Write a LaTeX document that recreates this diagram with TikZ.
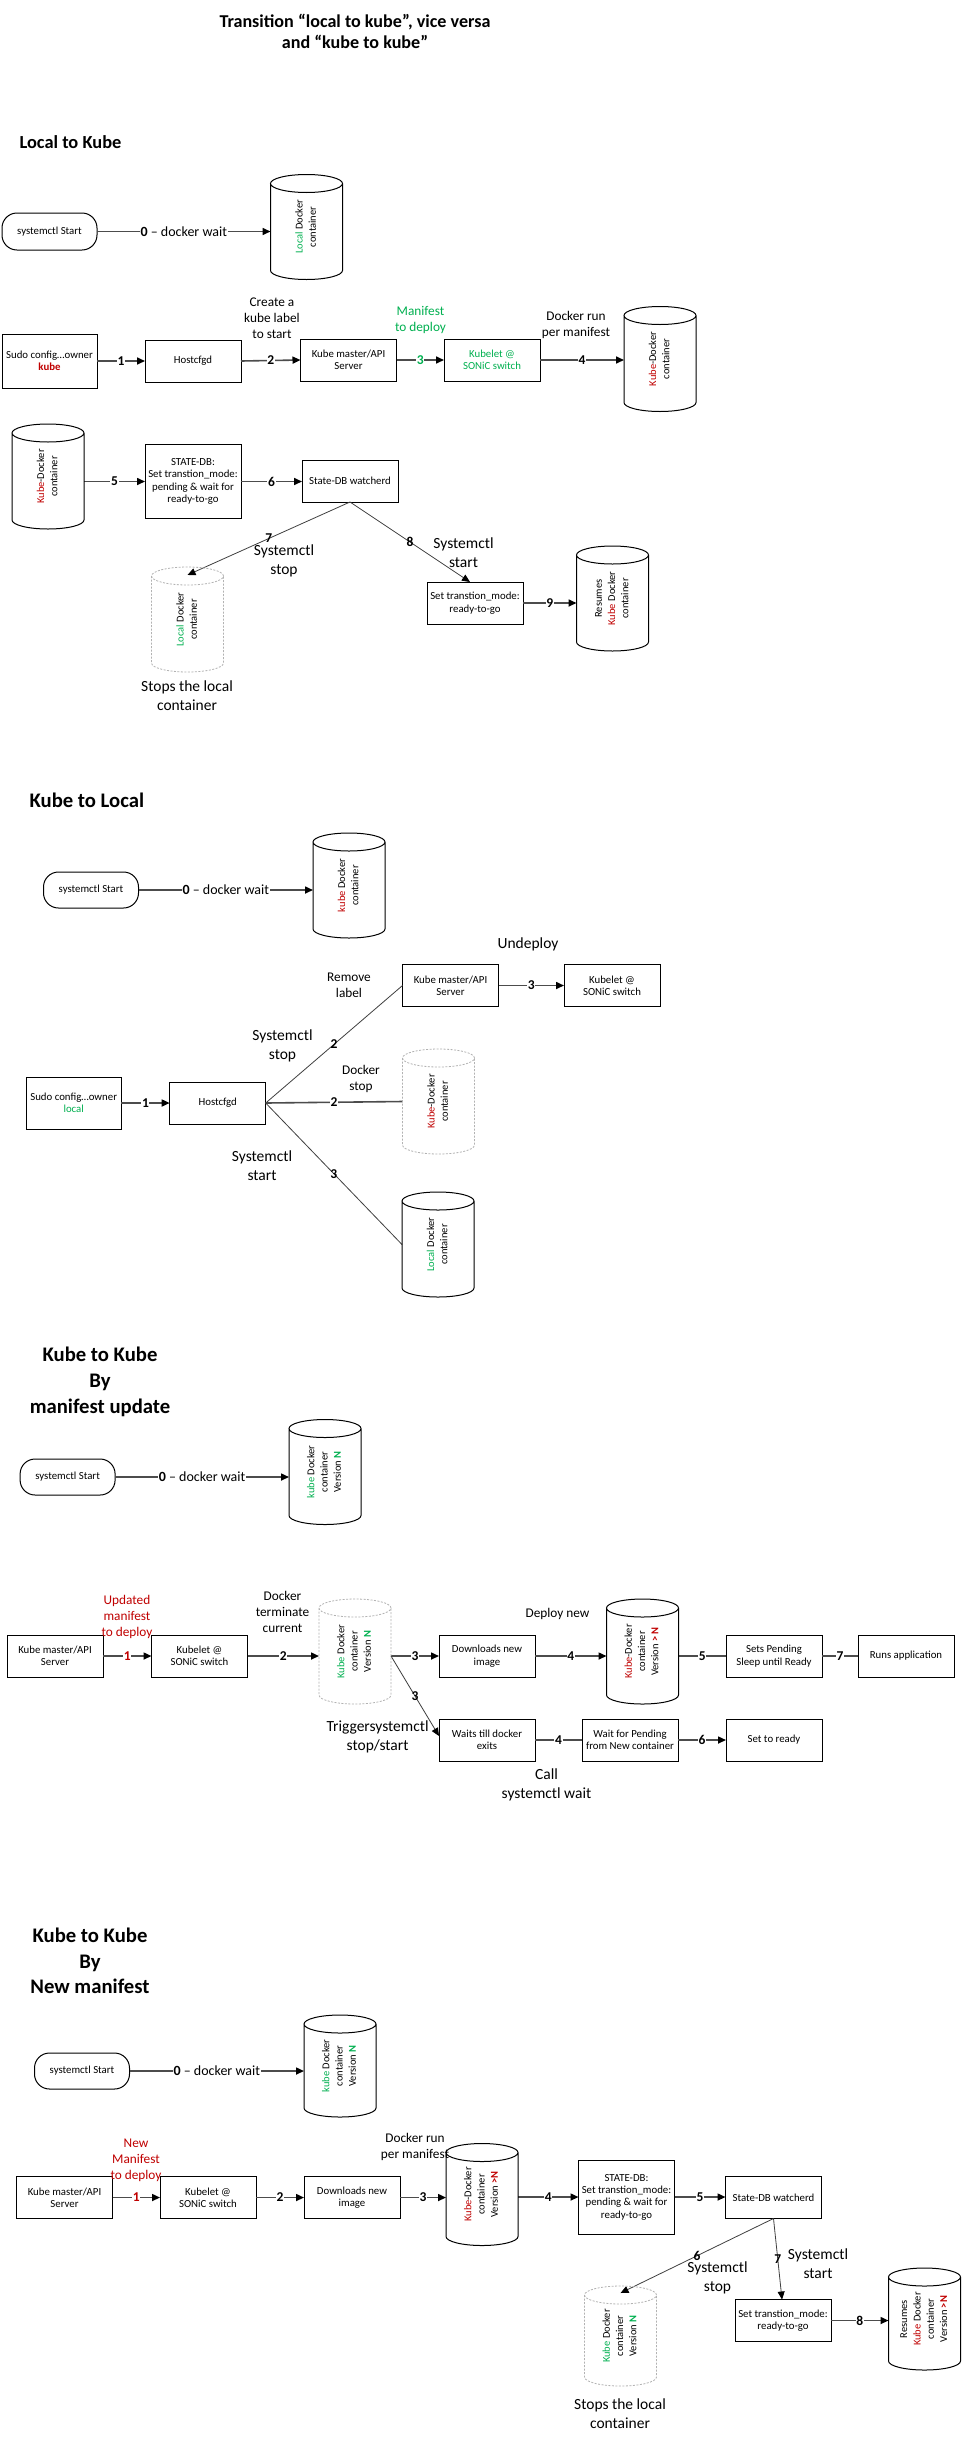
\documentclass[tikz,border=0pt]{standalone}
\usepackage{fontspec}
\setmainfont{Carlito}
\usetikzlibrary{arrows.meta}

\definecolor{kred}{HTML}{C00000}
\definecolor{lgreen}{HTML}{00B050}

\newcommand\boxfont{\fontsize{10.8}{12.4}\selectfont}
\newcommand\notefont{\fontsize{13.3}{16}\selectfont}
\newcommand\bigfont{\fontsize{15.5}{18.8}\selectfont}
\newcommand\numfont{\fontsize{13.5}{16}\selectfont\bfseries}
\newcommand\headfont{\fontsize{20.7}{25.7}\selectfont\bfseries}
\newcommand\cyltext[1]{\rotatebox{90}{\fontsize{10.5}{13.3}\selectfont\begin{tabular}{@{}c@{}}#1\end{tabular}}}

\tikzset{
  box/.style={draw, line width=1pt, minimum width=96pt, minimum height=42pt,
    inner sep=1pt, outer sep=0pt, align=center, font=\boxfont},
  tallbox/.style={box, minimum height=74pt},
  pill/.style={box, rounded corners=15pt, minimum width=95pt, minimum height=37pt},
  cyl/.style={minimum width=72pt, minimum height=105pt, inner sep=0pt, outer sep=0pt},
  cylline/.style={draw, line width=1pt},
  cylgone/.style={draw=black!30, line width=0.8pt, dash pattern=on 2pt off 1.5pt},
  flow/.style={draw=black!70, line width=1.6pt, -{Triangle[length=8pt,width=7pt,color=black]}},
  flowline/.style={draw=black!70, line width=1.6pt},
  link/.style={draw=black!75, line width=0.8pt, -{Triangle[length=8pt,width=7pt,color=black]}},
  linkline/.style={draw=black!75, line width=0.8pt},
  num/.style={fill=white, inner sep=0.6pt, font=\numfont},
  waitlbl/.style={fill=white, inner sep=0.6pt, font=\fontsize{14}{16}\selectfont},
  note/.style={align=center, font=\notefont},
  bignote/.style={align=center, font=\bigfont},
  head/.style={align=center, font=\headfont},
}

\begin{document}
\begin{tikzpicture}[x=1pt, y=-1pt]
\fill[white] (0,0) rectangle (962,2441);
\useasboundingbox (0,0) rectangle (962,2441);

% title
\node[align=center, font=\fontsize{18.1}{21.7}\selectfont\bfseries] (title) at (355,31.5)
  {Transition “local to kube”, vice versa\\and “kube to kube”};

% ---------------- Local to Kube ----------------
\node[anchor=west, font=\fontsize{18.4}{22}\selectfont\bfseries] (hdlk) at (16,142) {Local to Kube};

\node[pill] (startlk) at (49.5,231.5) {systemctl Start};
\node[cyl] (lkold) at (306.5,227) {\cyltext{\textcolor{lgreen}{Local} Docker\\container}};
\draw[flow] (startlk.east) -- node[waitlbl] {\textbf{0} – docker wait} (lkold.west |- startlk.east);

\node[box, minimum width=95pt, minimum height=54pt] (sudolk) at (49.5,361) {Sudo config…owner\\\textcolor{kred}{\textbf{kube}}};
\node[box] (cfglk) at (193,361) {Hostcfgd};
\node[box] (apilk) at (348.5,360) {Kube master/API\\Server};
\node[box, text=lgreen] (kubeletlk) at (492,360) {Kubelet @\\SONiC switch};
\node[cyl] (lknew) at (660,359) {\cyltext{\textcolor{kred}{Kube}-Docker\\container}};

\node[note] (notelabel) at (272,318) {Create a\\kube label\\to start};
\node[note, text=lgreen] (notemanifest) at (420.5,320) {Manifest\\to deploy};
\node[note] (noterun) at (576,325) {Docker run\\per manifest};

\draw[flow] (sudolk.east) -- node[num] {1} (cfglk.west);
\draw[flow] (cfglk.east) -- node[num] {2} (apilk.west);
\draw[flow] (apilk.east) -- node[num, text=lgreen] {3} (kubeletlk.west);
\draw[flow] (kubeletlk.east) -- node[num] {4} (lknew.west |- kubeletlk.east);

\node[cyl] (lkkube) at (48,476.5) {\cyltext{\textcolor{kred}{Kube}-Docker\\container}};
\node[tallbox] (dblk) at (193,481.5) {STATE-DB:\\Set transtion\_mode:\\pending \& wait for\\ready-to-go};
\node[box] (watchlk) at (350,481) {State-DB watcherd};
\node[cyl] (lkloc) at (187.5,619.5) {\cyltext{\textcolor{lgreen}{Local} Docker\\container}};
\node[bignote] (stopslk) at (187,696) {Stops the local\\container};
\node[box] (readylk) at (475,603) {Set transtion\_mode:\\ready-to-go};
\node[cyl] (lkres) at (612.5,598.5) {\cyltext{Resumes\\\textcolor{kred}{Kube} Docker\\container}};

\node[bignote] (notestoplk) at (284,561) {Systemctl\\stop};
\node[bignote] (notestartlk) at (463.5,552.5) {Systemctl\\start};

\draw[flow] (lkkube.east |- dblk.west) -- node[num] {5} (dblk.west);
\draw[flow] (dblk.east) -- node[num] {6} (watchlk.west |- dblk.east);
\draw[link] (watchlk.south) -- node[num, fill=none] {7} ([yshift=-8pt]lkloc.north);
\draw[link] (watchlk.south) -- node[num, fill=none] {8} ([xshift=-5pt]readylk.north);
\draw[flow] (readylk.east) -- node[num] {9} (lkres.west |- readylk.east);

% ---------------- Kube to Local ----------------
\node[anchor=west, head] (hdkl) at (26,800.7) {Kube to Local};

\node[pill, minimum height=36pt] (startkl) at (91,890) {systemctl Start};
\node[cyl] (klkube) at (349,885.5) {\cyltext{\textcolor{kred}{kube} Docker\\container}};
\draw[flow] (startkl.east) -- node[waitlbl] {\textbf{0} – docker wait} (klkube.west |- startkl.east);

\node[bignote] (undeploy) at (528,944) {Undeploy};
\node[note] (removelabel) at (349,985.5) {Remove\\label};
\node[box] (apikl) at (450.5,985.5) {Kube master/API\\Server};
\node[box] (kubeletkl) at (612,985.5) {Kubelet @\\SONiC switch};
\draw[flow] (apikl.east) -- node[num] {3} (kubeletkl.west);

\node[bignote] (notestopkl) at (282.5,1046) {Systemctl\\stop};
\node[note] (notedockerstop) at (361,1079) {Docker\\stop};
\node[bignote] (notestartkl) at (262,1166) {Systemctl\\start};

\node[box, minimum width=95pt, minimum height=52pt] (sudokl) at (73.7,1103) {Sudo config…owner\\\textcolor{lgreen}{local}};
\node[box] (cfgkl) at (217.7,1103) {Hostcfgd};
\node[cyl] (kldel) at (438.5,1101.5) {\cyltext{\textcolor{kred}{Kube}-Docker\\container}};
\node[cyl] (kllocal) at (438,1244.5) {\cyltext{\textcolor{lgreen}{Local} Docker\\container}};

\draw[flow] (sudokl.east) -- node[num] {1} (cfgkl.west);
\draw[linkline] (cfgkl.east) -- node[num, fill=none] {2} (apikl.west);
\draw[flowline] (cfgkl.east) -- node[num] {2} (kldel.west);
\draw[linkline] (cfgkl.east) -- node[num, fill=none] {3} (kllocal.west);

% ---------------- Kube to Kube, manifest update ----------------
\node[head] (hdkk) at (100,1382) {Kube to Kube\\By\\manifest update};

\node[pill, minimum height=36pt] (startkk) at (67.6,1477) {systemctl Start};
\node[cyl] (kkold0) at (325,1472) {\cyltext{\textcolor{lgreen}{kube} Docker\\container\\Version \textcolor{lgreen}{\textbf{N}}}};
\draw[flow] (startkk.east) -- node[waitlbl] {\textbf{0} – docker wait} (kkold0.west |- startkk.east);

\node[box] (apikk) at (55,1656) {Kube master/API\\Server};
\node[box] (kubeletkk) at (199.5,1656) {Kubelet @\\SONiC switch};
\node[cyl] (kkold) at (355,1651.5) {\cyltext{\textcolor{lgreen}{Kube} Docker\\container\\Version \textcolor{lgreen}{\textbf{N}}}};
\node[box] (pullkk) at (487,1656) {Downloads new\\image};
\node[cyl] (kknew) at (642.5,1651.5) {\cyltext{\textcolor{kred}{Kube}-Docker\\container\\Version \textcolor{kred}{\textbf{> N}}}};
\node[box] (pendkk) at (774,1656) {Sets Pending\\Sleep until Ready};
\node[box] (runkk) at (906,1656) {Runs application};
\node[box] (waitkk) at (487,1740) {Waits till docker\\exits};
\node[box] (pendwaitkk) at (630,1740) {Wait for Pending\\from New container};
\node[box] (readykk) at (774,1740) {Set to ready};

\node[note, text=kred] (noteupdated) at (127,1617) {Updated\\manifest\\to deploy};
\node[note] (noteterminate) at (282.5,1612) {Docker\\terminate\\current};
\node[note] (notedeploy) at (557.5,1614) {Deploy new};
\node[bignote] (notetrigger) at (377.6,1737) {Triggersystemctl\\stop/start};
\node[bignote] (notecall) at (546.5,1784.5) {Call\\systemctl wait};

\draw[flow] (apikk.east) -- node[num, text=kred] {1} (kubeletkk.west);
\draw[flow] (kubeletkk.east) -- node[num] {2} (kkold.west |- kubeletkk.east);
\draw[flow] (kkold.east |- pullkk.west) -- node[num] {3} (pullkk.west);
\draw[flow] (pullkk.east) -- node[num] {4} (kknew.west |- pullkk.east);
\draw[flowline] (kknew.east |- pendkk.west) -- node[num] {5} (pendkk.west);
\draw[flowline] (pendkk.east) -- node[num] {7} (runkk.west);
\draw[link] (kkold.east |- pullkk.west) -- node[num, fill=none] {3} ([yshift=4pt]waitkk.west);
\draw[flowline] (waitkk.east) -- node[num] {4} (pendwaitkk.west);
\draw[flow] (pendwaitkk.east) -- node[num] {6} (readykk.west);

% ---------------- Kube to Kube, new manifest ----------------
\node[head] (hdnm) at (90,1961) {Kube to Kube\\By\\New manifest};

\node[pill, minimum height=36pt] (startnm) at (82,2071) {systemctl Start};
\node[cyl, minimum height=102pt] (nmold0) at (340,2066) {\cyltext{\textcolor{lgreen}{kube} Docker\\container\\Version \textcolor{lgreen}{\textbf{N}}}};
\draw[flow] (startnm.east) -- node[waitlbl] {\textbf{0} – docker wait} (nmold0.west |- startnm.east);

\node[box] (apinm) at (64.5,2197.5) {Kube master/API\\Server};
\node[box] (kubeletnm) at (208,2197.5) {Kubelet @\\SONiC switch};
\node[box] (pullnm) at (352,2197.5) {Downloads new\\image};
\node[cyl, minimum height=102pt] (nmnew) at (482,2194.5) {\cyltext{\textcolor{kred}{Kube}-Docker\\container\\Version \textcolor{kred}{\textbf{>N}}}};
\node[tallbox] (dbnm) at (626.5,2197) {STATE-DB:\\Set transtion\_mode:\\pending \& wait for\\ready-to-go};
\node[box] (watchnm) at (773.5,2197.5) {State-DB watcherd};
\node[cyl, minimum height=100pt] (nmold) at (620.5,2336) {\cyltext{\textcolor{lgreen}{Kube} Docker\\container\\Version \textcolor{lgreen}{\textbf{N}}}};
\node[box] (readynm) at (783,2320.5) {Set transtion\_mode:\\ready-to-go};
\node[cyl, minimum height=102pt] (nmres) at (924.5,2319) {\cyltext{Resumes\\\textcolor{kred}{Kube} Docker\\container\\Version \textcolor{kred}{\textbf{>N}}}};

\node[note, text=kred] (notenew) at (136,2160) {New\\Manifest\\to deploy};
\node[note] (noterunnm) at (415,2146.5) {Docker run\\per manifest};
\node[bignote] (notestopnm) at (717.5,2278) {Systemctl\\stop};
\node[bignote] (notestartnm) at (818,2264) {Systemctl\\start};
\node[bignote] (stopsnm) at (620,2414) {Stops the local\\container};

\draw[flow] (apinm.east) -- node[num, text=kred] {1} (kubeletnm.west);
\draw[flow] (kubeletnm.east) -- node[num] {2} (pullnm.west);
\draw[flow] (pullnm.east) -- node[num] {3} (nmnew.west |- pullnm.east);
\draw[flow] (nmnew.east |- dbnm.west) -- node[num] {4} (dbnm.west);
\draw[flow] (dbnm.east) -- node[num] {5} (watchnm.west |- dbnm.east);
\draw[link] (watchnm.south) -- node[num, fill=none] {6} ([yshift=-7pt]nmold.north);
\draw[link] (watchnm.south) -- node[num, fill=none] {7} ([xshift=-1pt]readynm.north);
\draw[flow] (readynm.east) -- node[num] {8} (nmres.west |- readynm.east);

% cylinder outlines
\foreach \cy in {lkold,lknew,lkkube,lkres,klkube,kllocal,kkold0,kknew,nmold0,nmnew,nmres}
  \draw[cylline] ([yshift=-9pt]\cy.north) ellipse [x radius=36pt, y radius=9pt]
    ([yshift=-9pt]\cy.north west) -- ([yshift=9pt]\cy.south west)
    arc [start angle=180, end angle=360, x radius=36pt, y radius=9pt]
    -- ([yshift=-9pt]\cy.north east);
\foreach \cy in {lkloc,kldel,kkold,nmold}
  \draw[cylgone] ([yshift=-9pt]\cy.north) ellipse [x radius=36pt, y radius=9pt]
    ([yshift=-9pt]\cy.north west) -- ([yshift=9pt]\cy.south west)
    arc [start angle=180, end angle=360, x radius=36pt, y radius=9pt]
    -- ([yshift=-9pt]\cy.north east);
\end{tikzpicture}
\end{document}
